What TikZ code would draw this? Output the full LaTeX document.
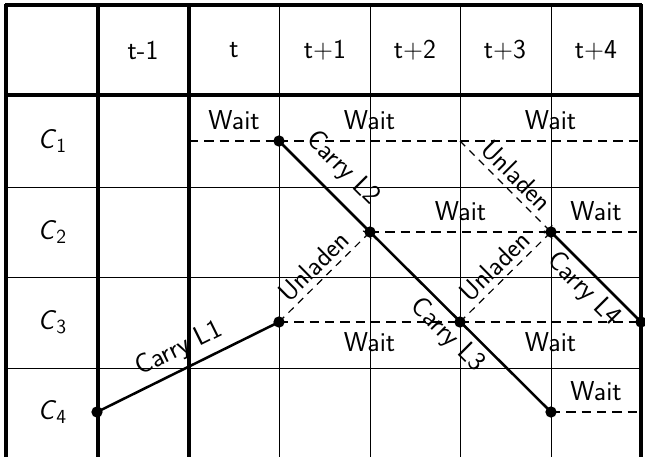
\documentclass[tikz,border=0pt]{standalone}
\usepackage{fontspec}
\usetikzlibrary{arrows.meta}
\newcommand\rowC[1]{\textit{C}\raisebox{-0.35ex}{\fontsize{15}{18}\selectfont #1}}
\begin{document}
\begin{tikzpicture}[x=0.75pt,y=-0.75pt,
  thingrid/.style={line width=0.75pt},
  thickgrid/.style={line width=2.3pt},
  carry/.style={line width=1.9pt},
  waitline/.style={line width=2.2pt, dash pattern=on 7pt off 4.5pt},
  unladen/.style={line width=0.9pt, dash pattern=on 5.5pt off 4.5pt, -{To[length=3.5pt,width=9pt]}},
  lbl/.style={font=\sffamily\fontsize{20.5}{24}\selectfont, inner sep=1pt},
  dotnode/.style={circle, fill, inner sep=0pt, minimum size=8.5pt}
]
\useasboundingbox (0,0) rectangle (645,457);
% grid
\foreach \x in {279,370,460,551} \draw[thingrid] (\x,5) -- (\x,457);
\foreach \y in {187,277,368} \draw[thingrid] (6,\y) -- (641,\y);
\foreach \x in {6,98,189,641} \draw[thickgrid] (\x,4) -- (\x,457);
\foreach \y in {5,95} \draw[thickgrid] (5,\y) -- (642,\y);
% header
\node[lbl] (h1) at (143,50) {t-1};
\node[lbl] (h2) at (234,50) {t};
\node[lbl] (h3) at (325,50) {t+1};
\node[lbl] (h4) at (415,50) {t+2};
\node[lbl] (h5) at (505,50) {t+3};
\node[lbl] (h6) at (596,50) {t+4};
\node[lbl] (r1) at (52,141) {\rowC{1}};
\node[lbl] (r2) at (52,232) {\rowC{2}};
\node[lbl] (r3) at (52,322) {\rowC{3}};
\node[lbl] (r4) at (52,412) {\rowC{4}};
% points
\coordinate (a1) at (189,141);
\coordinate (b1) at (279,141);
\coordinate (c1) at (460,141);
\coordinate (e1) at (641,141);
\coordinate (b2) at (370,232);
\coordinate (c2) at (551,232);
\coordinate (e2) at (641,232);
\coordinate (b3) at (279,322);
\coordinate (c3) at (460,322);
\coordinate (e3) at (641,322);
\coordinate (a4) at (97,412);
\coordinate (c4) at (551,412);
\coordinate (e4) at (641,412);
% wait lines
\draw[waitline] (a1) -- node[lbl, above=6pt]{Wait} (b1);
\draw[waitline] (b1) -- node[lbl, above=6pt]{Wait} (c1);
\draw[waitline] (c1) -- node[lbl, above=6pt]{Wait} (e1);
\draw[waitline] (b2) -- node[lbl, above=6pt]{Wait} (c2);
\draw[waitline] (c2) -- node[lbl, above=6pt]{Wait} (e2);
\draw[waitline] (b3) -- node[lbl, below=6pt]{Wait} (c3);
\draw[waitline] (c3) -- node[lbl, below=6pt]{Wait} (e3);
\draw[waitline] (c4) -- node[lbl, above=6pt]{Wait} (e4);
% carry lines
\draw[carry] (a4) -- node[lbl, sloped, above=4pt]{Carry L1} (b3);
\draw[carry] (b1) -- node[lbl, sloped, above=8pt]{Carry L2} (b2);
\draw[carry] (b2) -- node[lbl, sloped, below=3pt]{Carry L3} (c4);
\draw[carry] (c2) -- node[lbl, sloped, below=2pt]{Carry L4} (e3);
% unladen
\draw[unladen] (b3) -- node[lbl, sloped, above=3pt]{Unladen} (b2);
\draw[unladen] (c3) -- node[lbl, sloped, above=3pt]{Unladen} (c2);
\draw[unladen] (c1) -- node[lbl, sloped, above=3pt]{Unladen} (c2);
% dots
\foreach \p in {b1,b2,b3,c3,c2,e3,a4,c4} \node[dotnode] at (\p) {};
\end{tikzpicture}
\end{document}
